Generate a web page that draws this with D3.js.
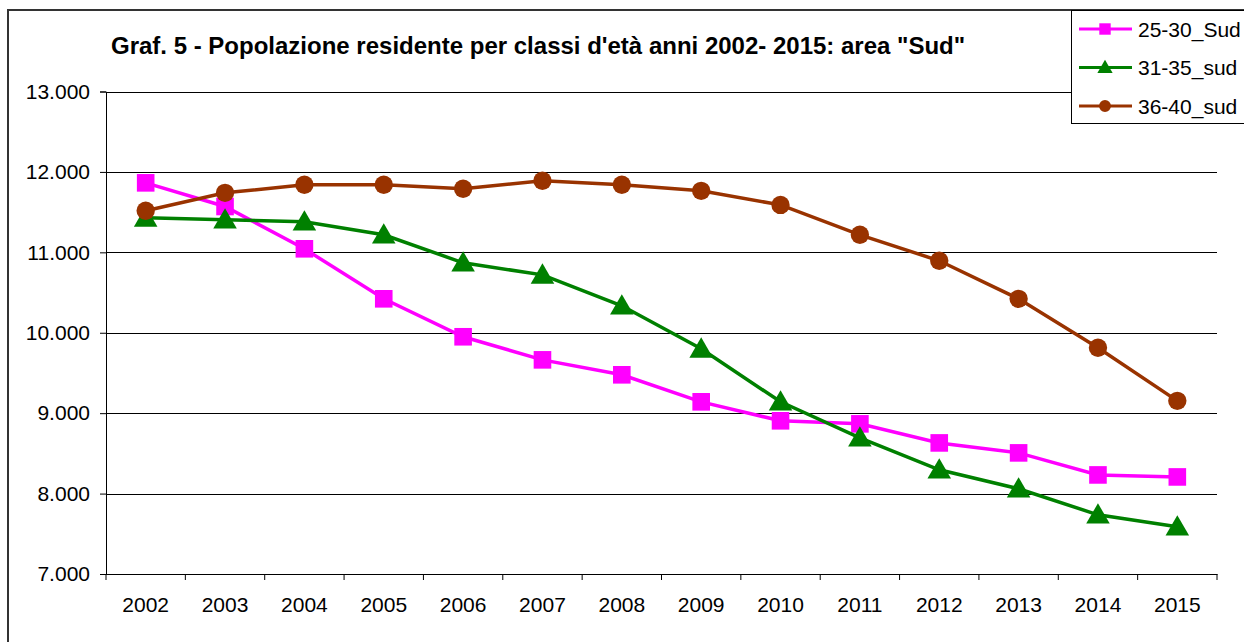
<html>
<head>
<script src="https://cdn.jsdelivr.net/npm/d3@7"></script>
<style>
  body { margin: 0; background: #fff; }
  text { font-family: "Liberation Sans", Arial, sans-serif; }
</style>
</head>
<body>
<svg id="chart" width="1244" height="642"></svg>
<script>
var years = ["2002","2003","2004","2005","2006","2007","2008","2009","2010","2011","2012","2013","2014","2015"];
var s2530 = [11864, 11570, 11044, 10422, 9950, 9663, 9477, 9141, 8905, 8867, 8630, 8506, 8232, 8207];
var s3135 = [11429, 11405, 11380, 11218, 10870, 10720, 10335, 9800, 9141, 8694, 8296, 8060, 7736, 7587];
var s3640 = [11517, 11740, 11840, 11840, 11790, 11890, 11840, 11765, 11590, 11218, 10895, 10422, 9813, 9153];
var yTicks = [7000, 8000, 9000, 10000, 11000, 12000, 13000];

var series = [
    { name: "25-30_Sud", values: s2530, color: "#ff00ff", symbol: d3.symbolSquare, size: 310 },
    { name: "31-35_sud", values: s3135, color: "#008000", symbol: d3.symbolTriangle, size: 240 },
    { name: "36-40_sud", values: s3640, color: "#993300", symbol: d3.symbolCircle, size: 265 }
];

var svg = d3.select("#chart");

// outer frame
svg.append("rect")
    .attr("x", 8).attr("y", 10)
    .attr("width", 1300).attr("height", 700)
    .attr("fill", "none").attr("stroke", "#333").attr("stroke-width", 2);

var plotL = 106, plotR = 1217, plotT = 91.5, plotB = 574;

var x = d3.scaleBand().domain(years).range([plotL, plotR]);
var y = d3.scaleLinear().domain([7000, 13000]).range([plotB, plotT]);

// gridlines
svg.append("g")
    .selectAll("line")
    .data(yTicks)
    .join("line")
    .attr("x1", plotL).attr("x2", plotR)
    .attr("y1", function(d) { return Math.round(y(d)) + 0.5; })
    .attr("y2", function(d) { return Math.round(y(d)) + 0.5; })
    .attr("stroke", "#000").attr("stroke-width", 1);

// y axis
var fmt = function(d) { return d3.format(",")(d).replace(/,/g, "."); };
var yAxis = svg.append("g")
    .attr("transform", "translate(" + plotL + ",0)")
    .call(d3.axisLeft(y).tickValues(yTicks).tickFormat(fmt).tickSize(6).tickPadding(10));
yAxis.select(".domain").attr("stroke", "#000");
yAxis.selectAll("text").attr("font-size", 21).attr("fill", "#000")
    .attr("font-family", "Liberation Sans, Arial, sans-serif");

// x axis
var xAxis = svg.append("g")
    .attr("transform", "translate(0," + plotB + ")")
    .call(d3.axisBottom(x).tickSize(0).tickPadding(23));
xAxis.select(".domain").attr("stroke", "#000");
xAxis.selectAll("text").attr("font-size", 21).attr("fill", "#000")
    .attr("font-family", "Liberation Sans, Arial, sans-serif");
xAxis.selectAll(".bound")
    .data(years.concat(["end"]))
    .join("line")
    .attr("class", "bound")
    .attr("x1", function(d, i) { return plotL + i * x.step(); })
    .attr("x2", function(d, i) { return plotL + i * x.step(); })
    .attr("y1", 0).attr("y2", 6)
    .attr("stroke", "#000");

var line = d3.line()
    .x(function(d, i) { return x(years[i]) + x.bandwidth() / 2; })
    .y(function(d) { return y(d); });

series.forEach(function(s) {
    var g = svg.append("g");
    g.append("path")
        .attr("d", line(s.values))
        .attr("fill", "none")
        .attr("stroke", s.color)
        .attr("stroke-width", 3.5);
    g.selectAll("path.m")
        .data(s.values)
        .join("path")
        .attr("class", "m")
        .attr("transform", function(d, i) {
            var dy = s.symbol === d3.symbolTriangle ? 2 : 0;
            return "translate(" + (x(years[i]) + x.bandwidth() / 2) + "," + (y(d) + dy) + ")";
        })
        .attr("d", d3.symbol().type(s.symbol).size(s.size))
        .attr("fill", s.color);
});

// title
svg.append("text")
    .attr("x", 111).attr("y", 54)
    .attr("font-size", 24).attr("font-weight", "bold")
    .attr("fill", "#000")
    .text("Graf. 5 - Popolazione residente per classi d'età anni 2002- 2015: area \"Sud\"");

// legend
var leg = svg.append("g");
leg.append("rect")
    .attr("x", 1071.5).attr("y", 10.5)
    .attr("width", 200).attr("height", 113)
    .attr("fill", "#fff").attr("stroke", "#000").attr("stroke-width", 1);
series.forEach(function(s, i) {
    var cy = 29 + i * 38.5;
    leg.append("line")
        .attr("x1", 1079).attr("x2", 1132)
        .attr("y1", cy).attr("y2", cy)
        .attr("stroke", s.color).attr("stroke-width", 3);
    leg.append("path")
        .attr("transform", "translate(1105," + (cy + (s.symbol === d3.symbolTriangle ? 1 : 0)) + ")")
        .attr("d", d3.symbol().type(s.symbol).size(s.size * 0.42))
        .attr("fill", s.color);
    leg.append("text")
        .attr("x", 1138).attr("y", cy + 7.5)
        .attr("font-size", 21).attr("fill", "#000")
        .text(s.name);
});
</script>
</body>
</html>
